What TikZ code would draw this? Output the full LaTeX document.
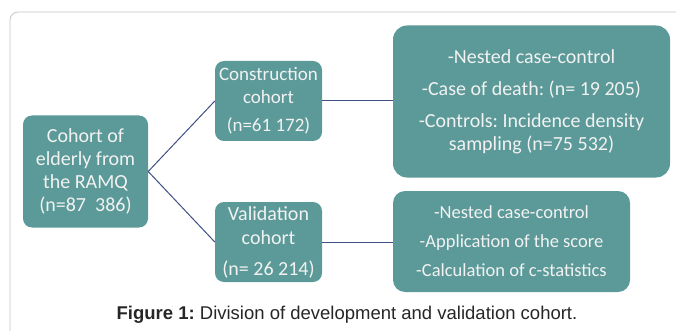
\documentclass[tikz,border=0pt]{standalone}
\usepackage{fontspec}
\setmainfont{Liberation Sans}
\newfontfamily\boxfont{Carlito}
\frenchspacing
\definecolor{tealfill}{HTML}{5B9A98}
\definecolor{linkcol}{HTML}{3E4F85}
\definecolor{framecol}{HTML}{C4C4C4}
\definecolor{boxtext}{HTML}{F2F2F2}
\begin{document}
\begin{tikzpicture}[x=1pt,y=-1pt,
  box/.style={rectangle, rounded corners=9pt, fill=tealfill, text=boxtext, align=center, inner sep=0pt},
  link/.style={draw=linkcol, line width=1pt}]
\useasboundingbox (0,0) rectangle (676,331);
\begin{scope}
\clip (0,0) rectangle (676,331);
\draw[framecol, line width=0.8pt, rounded corners=8pt] (10,12) rectangle (700,360);
\end{scope}
\node[box, minimum width=125pt, minimum height=112pt, font=\boxfont\fontsize{20}{23}\selectfont] (root) at (85.5,171.5)
  {Cohort of\\elderly from\\the RAMQ\\(n=87\ \ 386)};
\node[box, minimum width=107pt, minimum height=80pt, font=\boxfont\fontsize{19}{23}\selectfont] (cons) at (268.5,101)
  {Construction\\cohort\\[5pt](n=61 172)};
\node[box, minimum width=107pt, minimum height=80pt, font=\boxfont\fontsize{20}{24}\selectfont] (vali) at (268.5,242)
  {Validation\\cohort\\[7pt](n= 26 214)};
\node[box, rounded corners=14pt, minimum width=277pt, minimum height=152pt, font=\boxfont\fontsize{20}{23}\selectfont] (top) at (531.5,101.5)
  {-Nested case-control\\[9pt]-Case of death: (n= 19 205)\\[9pt]-Controls: Incidence density\\sampling (n=75 532)};
\node[box, rounded corners=12pt, minimum width=237pt, minimum height=101pt, font=\boxfont\fontsize{18.5}{29}\selectfont] (bot) at (511.5,241.5)
  {-Nested case-control\\-Application of the score\\-Calculation of c-statistics};
\draw[link] (root.east) -- (cons.west);
\draw[link] (root.east) -- (vali.west);
\draw[link] (cons.east) -- (top.west |- cons.east);
\draw[link] (vali.east) -- (bot.west |- vali.east);
\node[font=\fontsize{18.5}{20}\selectfont, text=black!85] (cap) at (347,315) {\textbf{Figure 1:} Division of development and validation cohort.};
\end{tikzpicture}
\end{document}
